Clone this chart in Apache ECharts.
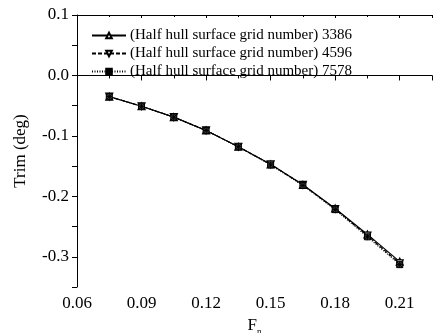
<!DOCTYPE html>
<html>
<head>
<meta charset="utf-8">
<script src="https://cdn.jsdelivr.net/npm/echarts@6/dist/echarts.min.js"></script>
<style>html,body{margin:0;padding:0;background:#fff}#c{width:436px;height:333px}</style>
</head>
<body>
<div id="c"></div>
<script>
const fn = [0.075, 0.09, 0.105, 0.12, 0.135, 0.15, 0.165, 0.18, 0.195, 0.21];
const trim3386 = [-0.035, -0.051, -0.069, -0.091, -0.118, -0.147, -0.181, -0.220, -0.263, -0.308];
const trim4596 = [-0.035, -0.051, -0.069, -0.091, -0.118, -0.147, -0.181, -0.221, -0.265, -0.311];
const trim7578 = [-0.035, -0.051, -0.069, -0.091, -0.118, -0.148, -0.182, -0.222, -0.267, -0.313];
const seriesNames = ['(Half hull surface grid number) 3386', '(Half hull surface grid number) 4596', '(Half hull surface grid number) 7578'];
const xTicks = [0.06, 0.09, 0.12, 0.15, 0.18, 0.21];
const yTicks = [0.1, 0.0, -0.1, -0.2, -0.3];

const font = 'Liberation Serif';
const pair = (ys) => fn.map((x, i) => [x, ys[i]]);
const boxX = 'path://M0,0L10,0L10,10L0,10Z M0,0L10,10 M10,0L0,10 M5,0L5,10 M0,5L10,5';

const chart = echarts.init(document.getElementById('c'), null, {renderer: 'canvas'});
chart.setOption({
  animation: false,
  backgroundColor: '#fff',
  grid: {left: 77, top: 15, right: 4, bottom: 46, containLabel: false, outerBoundsMode: 'none'},
  legend: {
    orient: 'vertical', left: 86, top: 23, itemWidth: 34, itemHeight: 7, itemGap: 3,
    textStyle: {fontFamily: font, fontSize: 15, color: '#000', padding: [0, 0, 0, -1]},
    data: seriesNames
  },
  xAxis: [{
    type: 'value', min: 0.06, max: 0.225, interval: 0.03,
    name: '{a|F}{b|n}', nameLocation: 'middle', nameGap: 26,
    nameTextStyle: {rich: {a: {fontFamily: font, fontSize: 17, color: '#000'}, b: {fontFamily: font, fontSize: 9, color: '#000', padding: [12, 0, 0, 0]}}},
    axisLine: {show: true, lineStyle: {color: '#000', width: 1}},
    axisTick: {show: true, inside: false, length: 5, lineStyle: {color: '#000'}},
    minorTick: {show: true, splitNumber: 2, length: 3, lineStyle: {color: '#000'}},
    splitLine: {show: false},
    axisLabel: {fontFamily: font, fontSize: 17, color: '#000', margin: 8, showMaxLabel: false,
      formatter: v => xTicks.some(t => Math.abs(t - v) < 1e-9) ? v.toFixed(2) : ''}
  }, {
    type: 'value', position: 'top', min: 0.06, max: 0.225, interval: 0.03,
    axisLine: {show: true, onZero: false, lineStyle: {color: '#000', width: 1}},
    axisTick: {show: true, inside: true, length: 3, lineStyle: {color: '#000'}},
    minorTick: {show: true, splitNumber: 2, length: 2, lineStyle: {color: '#000'}},
    splitLine: {show: false},
    axisLabel: {show: false}
  }],
  yAxis: {
    type: 'value', min: -0.35, max: 0.1, interval: 0.05,
    name: 'Trim (deg)', nameLocation: 'middle', nameGap: 48,
    nameTextStyle: {fontFamily: font, fontSize: 17, color: '#000'},
    axisLine: {show: true, onZero: false, lineStyle: {color: '#000', width: 1}},
    axisTick: {show: true, inside: false, length: 5, lineStyle: {color: '#000'}},
    splitLine: {show: false},
    axisLabel: {fontFamily: font, fontSize: 17, color: '#000', margin: 8,
      formatter: v => {
        const hit = yTicks.find(t => Math.abs(t - v) < 1e-9);
        return hit === undefined ? '' : v.toFixed(1);
      }}
  },
  series: [{
    name: seriesNames[0], type: 'line', data: pair(trim3386),
    symbol: 'triangle', symbolSize: 7,
    lineStyle: {color: '#000', width: 1.2, type: 'solid'},
    itemStyle: {color: '#fff', borderColor: '#000', borderWidth: 1.2}
  }, {
    name: seriesNames[1], type: 'line', data: pair(trim4596),
    symbol: 'triangle', symbolRotate: 180, symbolSize: 7,
    lineStyle: {color: '#000', width: 1.2, type: [4, 2]},
    itemStyle: {color: '#fff', borderColor: '#000', borderWidth: 1.2}
  }, {
    name: seriesNames[2], type: 'line', data: pair(trim7578),
    symbol: boxX, symbolSize: 6,
    lineStyle: {color: '#000', width: 1.2, type: [1, 1.5]},
    itemStyle: {color: '#444', borderColor: '#000', borderWidth: 1}
  }]
});
</script>
</body>
</html>
